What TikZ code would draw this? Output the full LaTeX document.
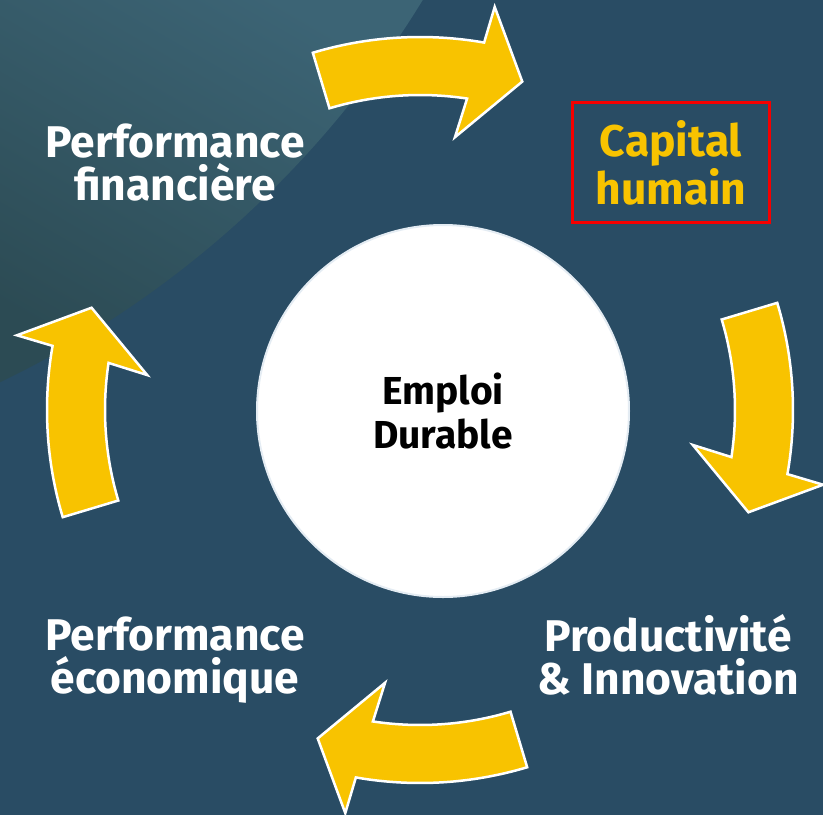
\documentclass[tikz,border=0pt]{standalone}
\usepackage{fontspec}
\setmainfont{Fira Sans}

\definecolor{fond}{HTML}{294C64}
\definecolor{fondclair}{HTML}{3C6475}
\definecolor{fondvert}{HTML}{2C4B54}
\definecolor{jaune}{HTML}{F8C300}
\definecolor{rouge}{HTML}{F50000}
\definecolor{bord}{HTML}{E4ECF3}

\begin{document}
\begin{tikzpicture}[x=0.5pt, y=0.5pt,
		etiquette/.style={text=white, font=\fontsize{22.2}{21.5}\selectfont\bfseries, align=center},
		fleche/.style={fill=jaune, draw=white, line width=1.25pt, line join=miter}]
			\useasboundingbox (-420,-405) rectangle (403,410);
			\fill [fond] (-420,-405) rectangle (403,410);
			\begin{scope}
				\clip (-855,934) circle [radius=1005];
				\shade [top color=fondclair, bottom color=fondvert, shading angle=-30] (-420,20) rectangle (10,410);
			\end{scope}

			\foreach \r in {0,90,180,270}
				\draw [fleche, rotate=-\r] (106.7:373) arc [start angle=106.7, end angle=80.1, radius=373] -- (79.5:410) -- (72.7:344) -- (82.7:275) -- (81.4:315) arc [start angle=81.4, end angle=106.7, radius=315] -- cycle;

			\node [etiquette] (fin) at (-245,247) {Performance\\financière};
			\node [etiquette, text=jaune, draw=rouge, line width=1.6pt, minimum width=98.5pt, minimum height=60pt] (capital) at (251,247.5) {Capital\\humain};
			\node [etiquette] (prod) at (248,-245) {Productivité\\\& Innovation};
			\node [etiquette] (eco) at (-245,-250) {Performance\\économique};

			\node [circle, fill=white, draw=bord, line width=1pt, minimum size=186pt, align=center,
				font=\fontsize{19.5}{22}\selectfont\bfseries] (emploi) at (23,-1) {Emploi\\Durable};
		\end{tikzpicture}
\end{document}
